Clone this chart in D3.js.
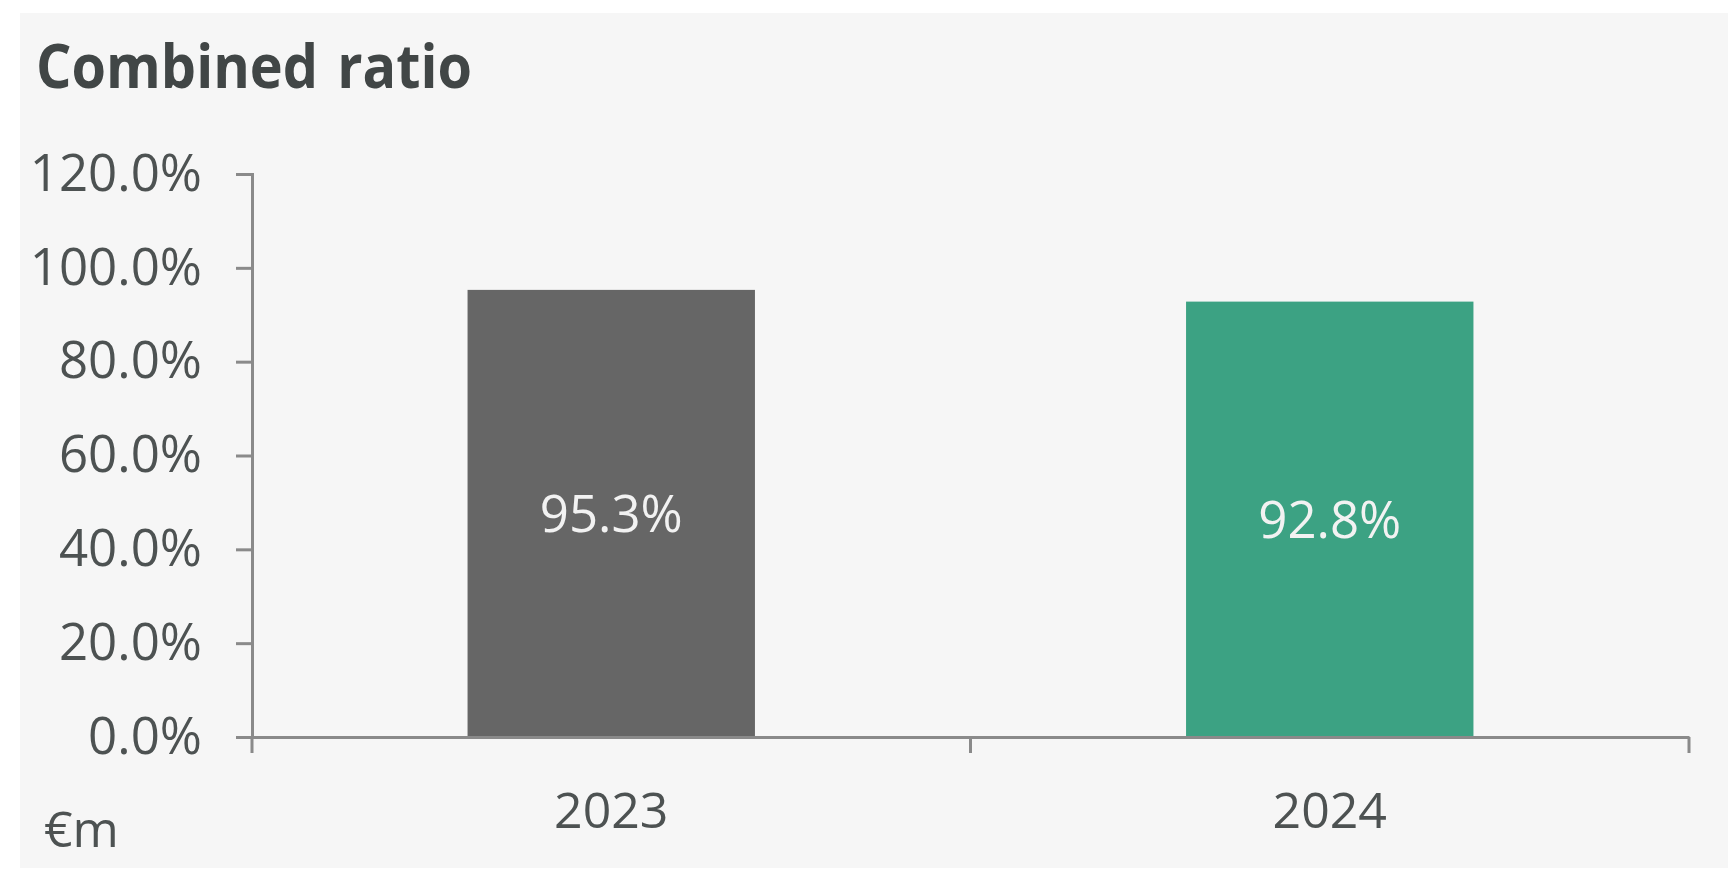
<!DOCTYPE html>
<html>
<head>
<meta charset="utf-8">
<script src="https://cdn.jsdelivr.net/npm/d3@7"></script>
<style>
  html, body { margin: 0; padding: 0; background: #ffffff; }
  svg { display: block; }
</style>
</head>
<body>
<svg id="chart" width="1728" height="870"></svg>
<script>
const categories = ["2023", "2024"];
const values = [0.953, 0.928];
const valueLabels = ["95.3%", "92.8%"];
const barColors = ["#666666", "#3ca283"];
const yTicks = [0, 0.2, 0.4, 0.6, 0.8, 1.0, 1.2];
const title = "Combined ratio";
const unitLabel = "€m";

const svg = d3.select("#chart");
const font = "'Open Sans', 'Segoe UI', sans-serif";
const textColor = "#4d5252";
const axisColor = "#8a8a8a";

svg.append("rect").attr("x", 20).attr("y", 13).attr("width", 1708).attr("height", 855).attr("fill", "#f6f6f6");

const x = d3.scaleBand().domain(categories).range([252, 1689]).padding(0);
const y = d3.scaleLinear().domain([0, 1.2]).range([737, 174]);

// bars
const bw = x.bandwidth() * 0.4;
svg.selectAll("rect.bar").data(categories).enter().append("rect")
  .attr("class", "bar")
  .attr("x", d => x(d) + (x.bandwidth() - bw) / 2)
  .attr("width", bw)
  .attr("y", (d, i) => y(values[i]))
  .attr("height", (d, i) => y(0) - y(values[i]))
  .attr("fill", (d, i) => barColors[i]);

// value labels
svg.selectAll("text.vl").data(categories).enter().append("text")
  .attr("class", "vl")
  .attr("x", d => x(d) + x.bandwidth() / 2)
  .attr("y", (d, i) => (y(values[i]) + y(0)) / 2)
  .attr("dy", "0.36em")
  .attr("text-anchor", "middle")
  .attr("font-family", font)
  .attr("font-size", 51)
  .attr("fill", "#f2f2f2")
  .text((d, i) => valueLabels[i]);

// y axis
const yAxis = svg.append("g").attr("transform", "translate(252,0)")
  .call(d3.axisLeft(y).tickValues(yTicks).tickFormat(d3.format(".1%")).tickSize(16).tickPadding(34));
yAxis.selectAll("path, line").attr("stroke", axisColor).attr("stroke-width", 3);
yAxis.selectAll("text").attr("font-family", font).attr("font-size", 51).attr("fill", textColor);

// x axis
const xAxis = svg.append("g").attr("transform", `translate(0,${y(0)})`)
  .call(d3.axisBottom(x).tickSize(0).tickSizeOuter(0).tickPadding(55));
xAxis.selectAll("path").attr("stroke", axisColor).attr("stroke-width", 3);
xAxis.selectAll("text").attr("font-family", font).attr("font-size", 50).attr("fill", textColor);

// boundary ticks between categories
const bounds = categories.map(d => x(d)).concat([x.range()[1]]);
xAxis.selectAll("line.bt").data(bounds).enter().append("line")
  .attr("class", "bt")
  .attr("x1", d => d).attr("x2", d => d)
  .attr("y1", 0).attr("y2", 16)
  .attr("stroke", axisColor).attr("stroke-width", 3);

// title
svg.append("text")
  .attr("x", 36).attr("y", 88)
  .attr("font-family", font).attr("font-weight", 700).attr("font-size", 61)
  .attr("fill", "#414646")
  .attr("word-spacing", 5)
  .attr("textLength", 436).attr("lengthAdjust", "spacingAndGlyphs")
  .text(title);

// unit label
svg.append("text")
  .attr("x", 44).attr("y", 847)
  .attr("font-family", font).attr("font-size", 50)
  .attr("fill", textColor)
  .text(unitLabel);
</script>
</body>
</html>
